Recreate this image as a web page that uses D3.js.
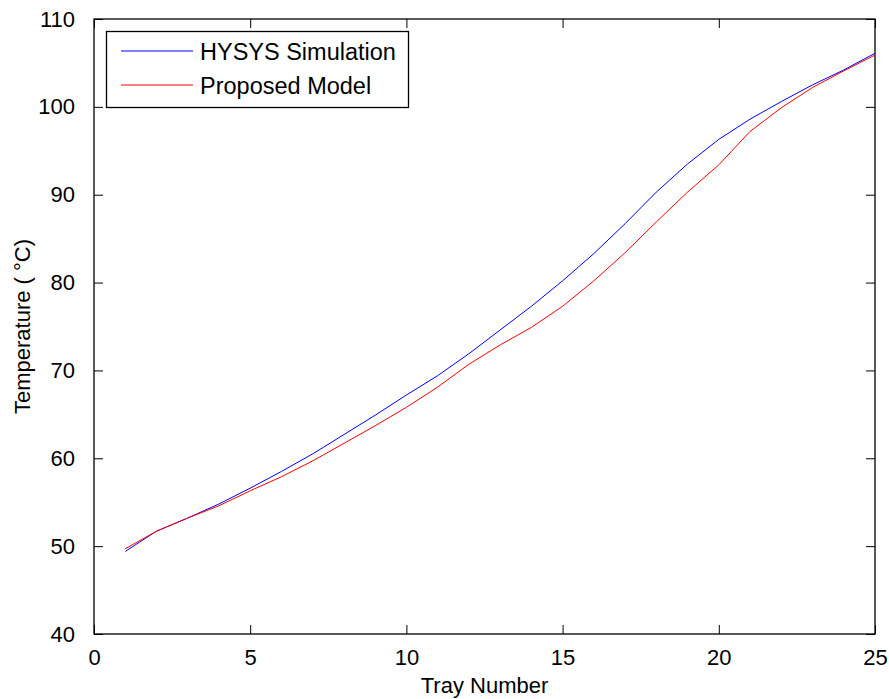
<!DOCTYPE html>
<html>
<head>
<meta charset="utf-8">
<script src="https://cdn.jsdelivr.net/npm/d3@7"></script>
<style>
  body { margin: 0; background: #fff; }
  svg text { font-family: "Liberation Sans", Arial, sans-serif; fill: #000; }
</style>
</head>
<body>
<script>
var WIDTH = 889;
var HEIGHT = 699;

// tray numbers
var trays = [1, 2, 3, 4, 5, 6, 7, 8, 9, 10, 11, 12, 13, 14, 15, 16, 17, 18, 19, 20, 21, 22, 23, 24, 25];
// HYSYS simulation temperatures (C)
var hysys = [49.4, 51.7, 53.2, 54.8, 56.6, 58.5, 60.5, 62.7, 64.9, 67.2, 69.4, 71.9, 74.6, 77.3, 80.2,
             83.3, 86.7, 90.3, 93.5, 96.3, 98.6, 100.6, 102.5, 104.2, 106.1];
// proposed model temperatures (C)
var model = [49.7, 51.7, 53.2, 54.6, 56.3, 57.9, 59.7, 61.7, 63.7, 65.8, 68.1, 70.7, 72.9, 74.9, 77.3,
             80.2, 83.4, 86.9, 90.3, 93.4, 97.2, 99.9, 102.2, 104.1, 105.9];

var xTicks = [0, 5, 10, 15, 20, 25];
var yTicks = [40, 50, 60, 70, 80, 90, 100, 110];

var seriesNames = ["HYSYS Simulation", "Proposed Model"];
var seriesColors = ["#0000ff", "#ff0000"];

var margin = {left: 94, right: 14, top: 19, bottom: 65};

var x = d3.scaleLinear().domain([0, 25]).range([margin.left, WIDTH - margin.right]);
var y = d3.scaleLinear().domain([40, 110]).range([HEIGHT - margin.bottom, margin.top]);

var svg = d3.select("body")
            .append("svg")
            .attr("width", WIDTH)
            .attr("height", HEIGHT);

var TICK = 9;

// bottom / top axes
svg.append("g")
   .attr("transform", "translate(0," + y(40) + ")")
   .call(d3.axisBottom(x).tickValues(xTicks).tickSizeInner(-TICK).tickSizeOuter(0).tickPadding(15))
   .call(g => g.select(".domain").remove())
   .selectAll("text").style("font-size", "22px");

svg.append("g")
   .attr("transform", "translate(0," + y(110) + ")")
   .call(d3.axisTop(x).tickValues(xTicks).tickSizeInner(-TICK).tickSizeOuter(0).tickFormat(""))
   .call(g => g.select(".domain").remove());

// left / right axes
svg.append("g")
   .attr("transform", "translate(" + x(0) + ",0)")
   .call(d3.axisLeft(y).tickValues(yTicks).tickSizeInner(-TICK).tickSizeOuter(0).tickPadding(19))
   .call(g => g.select(".domain").remove())
   .selectAll("text").style("font-size", "22px");

svg.append("g")
   .attr("transform", "translate(" + x(25) + ",0)")
   .call(d3.axisRight(y).tickValues(yTicks).tickSizeInner(-TICK).tickSizeOuter(0).tickFormat(""))
   .call(g => g.select(".domain").remove());

svg.selectAll(".tick line").attr("stroke", "#000").attr("stroke-width", 1);

// plot box
svg.append("rect")
   .attr("x", x(0))
   .attr("y", y(110))
   .attr("width", x(25) - x(0))
   .attr("height", y(40) - y(110))
   .attr("fill", "none")
   .attr("stroke", "#000")
   .attr("stroke-width", 1.3);

// lines
var line = d3.line()
             .x((d, i) => x(trays[i]))
             .y(d => y(d));

svg.selectAll("path.series")
   .data([hysys, model])
   .enter()
   .append("path")
   .classed("series", true)
   .attr("d", line)
   .attr("fill", "none")
   .attr("stroke", (d, i) => seriesColors[i])
   .attr("stroke-width", 1);

// axis titles
svg.append("text")
   .attr("x", (x(0) + x(25)) / 2)
   .attr("y", 693)
   .attr("text-anchor", "middle")
   .style("font-size", "22px")
   .text("Tray Number");

svg.append("text")
   .attr("transform", "translate(30," + (y(40) + y(110)) / 2 + ") rotate(-90)")
   .attr("text-anchor", "middle")
   .style("font-size", "22px")
   .text("Temperature ( °C)");

// legend
var legend = svg.append("g");
legend.append("rect")
      .attr("x", 106.5)
      .attr("y", 31.5)
      .attr("width", 302)
      .attr("height", 76)
      .attr("fill", "#fff")
      .attr("stroke", "#000")
      .attr("stroke-width", 1.3);

var items = legend.selectAll("g.item")
                  .data(seriesNames)
                  .enter()
                  .append("g")
                  .classed("item", true)
                  .attr("transform", (d, i) => "translate(0," + (51 + i * 34) + ")");

items.append("line")
     .attr("x1", 121)
     .attr("x2", 193)
     .attr("y1", 0)
     .attr("y2", 0)
     .attr("stroke", (d, i) => seriesColors[i])
     .attr("stroke-width", 1);

items.append("text")
     .attr("x", 200)
     .attr("y", 8.5)
     .style("font-size", "23.5px")
     .text(d => d);
</script>
</body>
</html>
